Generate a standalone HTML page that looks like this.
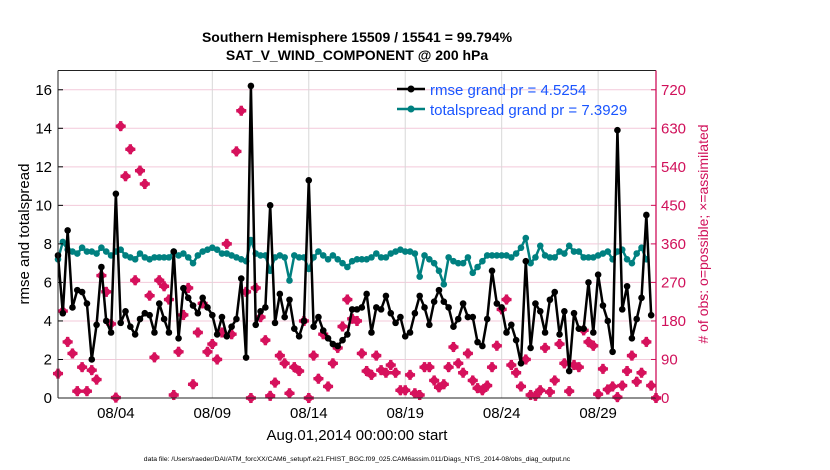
<!DOCTYPE html>
<html><head><meta charset="utf-8"><style>
body{margin:0;background:#fff;width:830px;height:470px;overflow:hidden}
svg{display:block;font-family:"Liberation Sans",sans-serif}
</style></head><body>
<svg id="chart" width="830" height="470">
<text x="357" y="42" text-anchor="middle" font-size="14" font-weight="bold">Southern Hemisphere 15509 / 15541 = 99.794%</text>
<text x="357" y="60" text-anchor="middle" font-size="14" font-weight="bold">SAT_V_WIND_COMPONENT @ 200 hPa</text>
<g id="grid"></g>
<g id="marks"></g>
<g id="axes"></g>
<text transform="translate(29,234) rotate(-90)" text-anchor="middle" font-size="15">rmse and totalspread</text>
<text transform="translate(708,234) rotate(-90)" text-anchor="middle" font-size="14" fill="#d0105a"># of obs: o=possible; ×=assimilated</text>
<text x="357" y="440" text-anchor="middle" font-size="15">Aug.01,2014 00:00:00 start</text>
<text x="357" y="461" text-anchor="middle" font-size="6.8">data file: /Users/raeder/DAI/ATM_forcXX/CAM6_setup/f.e21.FHIST_BGC.f09_025.CAM6assim.011/Diags_NTrS_2014-08/obs_diag_output.nc</text>
<g>
<line x1="397" y1="89" x2="425" y2="89" stroke="#000" stroke-width="2.5"/><circle cx="411" cy="89" r="3.5" fill="#000"/>
<text x="430" y="95" font-size="15" fill="#1a55ff">rmse grand pr = 4.5254</text>
<line x1="397" y1="109" x2="425" y2="109" stroke="#008080" stroke-width="2.5"/><circle cx="411" cy="109" r="3.5" fill="#008080"/>
<text x="430" y="115" font-size="15" fill="#1a55ff">totalspread grand pr = 7.3929</text>
</g>
</svg>
<script>
const rmse=[7.4,4.4,8.7,4.7,5.6,5.5,4.9,2.0,3.8,6.8,4.0,3.4,10.6,3.9,4.5,3.7,3.3,4.1,4.4,4.3,3.4,4.9,4.1,3.4,7.6,3.1,5.7,5.2,4.8,4.4,5.2,4.7,
4.3,3.3,4.2,3.2,3.7,4.1,6.2,2.1,16.2,3.8,4.5,4.7,10.0,3.9,5.4,4.2,5.1,3.6,3.2,4.0,11.3,3.7,4.2,3.5,3.1,2.8,2.7,3.0,3.3,4.6,4.6,
4.7,5.4,3.4,4.7,4.6,5.3,4.4,3.9,4.2,3.2,3.4,4.4,5.3,4.7,3.8,5.0,5.6,5.0,4.7,3.7,4.1,4.9,4.2,4.2,2.9,2.7,4.1,6.6,4.9,4.7,3.4,
3.8,3.0,1.8,7.1,2.6,4.9,4.5,3.4,5.1,5.5,3.3,4.5,1.4,4.4,3.6,3.6,6.0,3.4,6.4,4.8,4.0,2.4,13.9,4.6,5.8,3.1,4.1,5.2,9.5,4.3];
const spread=[7.2,8.1,7.7,7.6,7.5,7.8,7.6,7.6,7.5,7.8,7.6,7.4,7.6,7.7,7.4,7.3,7.2,7.5,7.3,7.2,7.3,7.3,7.3,7.3,7.6,7.4,7.5,7.3,7.0,7.4,7.6,7.7,
7.8,7.7,7.5,7.5,7.4,7.3,7.2,7.1,8.2,7.5,7.4,7.4,6.6,7.3,7.4,7.3,6.1,7.4,7.3,7.3,6.7,7.3,7.6,7.4,7.2,7.4,7.2,7.0,6.8,7.1,7.2,
7.2,7.2,7.3,7.5,7.3,7.3,7.5,7.6,7.7,7.6,7.6,7.5,6.3,7.4,7.2,7.0,6.6,5.9,7.3,7.1,7.0,7.0,7.3,6.5,6.8,7.1,7.4,7.4,7.4,7.4,
7.4,7.3,7.5,7.8,8.3,7.0,7.3,7.9,7.4,7.3,7.3,7.6,7.5,7.9,7.6,7.6,7.3,7.3,7.3,7.4,7.5,7.6,7.2,7.6,7.7,7.2,7.0,7.5,7.8,7.2];
const obsAssim=[57,203,131,104,16,72,16,65,43,286,248,173,1,635,518,581,275,531,500,239,95,275,261,230,7,108,194,257,32,153,221,108,
126,90,153,360,149,576,671,248,0,257,189,135,5,36,99,81,11,72,63,180,0,99,45,149,27,81,117,167,230,185,180,
104,63,54,99,65,59,77,59,18,18,54,11,7,72,72,41,25,32,72,119,81,59,104,41,23,18,29,72,122,207,230,
77,59,27,90,7,5,18,117,14,41,126,81,16,77,72,158,131,122,9,68,20,27,2,29,63,99,38,59,131,29,0];
const leftTicks=[0,2,4,6,8,10,12,14,16];
const rightTicks=[0,90,180,270,360,450,540,630,720];
const dateTicks=[3,8,13,18,23,28];
const dateLabels=["08/04","08/09","08/14","08/19","08/24","08/29"];
const stepsPerDay=4;

const X0=58,X1=656,Y0=398,Y1=70.5,DAYS=31,YMAX=17,RMAX=765;
const xs=d=>X0+(X1-X0)*d/DAYS;
const ys=v=>Y0-(Y0-Y1)*v/YMAX;
const yr=v=>Y0-(Y0-Y1)*v/RMAX;
const NS="http://www.w3.org/2000/svg";
function mk(parent,tag,attrs){const e=document.createElementNS(NS,tag);for(const k in attrs)e.setAttribute(k,attrs[k]);parent.appendChild(e);return e;}
const grid=document.getElementById('grid'),marks=document.getElementById('marks'),axes=document.getElementById('axes');

leftTicks.forEach(t=>{
  const g=mk(grid,'line',{x1:X0,x2:X1,y1:ys(t),y2:ys(t),stroke:'#f3c9da','stroke-width':1});
  
  
  const l=mk(axes,'text',{x:X0-6,y:ys(t)+5,'text-anchor':'end','font-size':15});
  l.textContent=t;
  
  
  mk(axes,'line',{x1:X0,x2:X0+5,y1:ys(t),y2:ys(t),stroke:'#000'});
});
rightTicks.forEach(t=>{
  const l=mk(axes,'text',{x:X1+5,y:yr(t)+5,'font-size':15,fill:'#d0105a'});
  l.textContent=t;
  
  
  mk(axes,'line',{x1:X1-5,x2:X1,y1:yr(t),y2:yr(t),stroke:'#d0105a'});
});
dateTicks.forEach((d,i)=>{
  const g=mk(grid,'line',{x1:xs(d),x2:xs(d),y1:Y1,y2:Y0,stroke:'#d8d8d8','stroke-width':1});
  
  
  const l=mk(axes,'text',{x:xs(d),y:Y0+20,'text-anchor':'middle','font-size':15});
  l.textContent=dateLabels[i];
  
  
});
mk(axes,'line',{x1:X0,x2:X1,y1:Y1,y2:Y1,stroke:'#222'});
mk(axes,'line',{x1:X0,x2:X1,y1:Y0,y2:Y0,stroke:'#222'});
mk(axes,'line',{x1:X0,x2:X0,y1:Y1,y2:Y0,stroke:'#222'});
const ra=mk(axes,'line',{x1:X1,x2:X1,y1:Y1,y2:Y0,stroke:'#d0105a','stroke-width':1.3});



obsAssim.forEach((v,i)=>{
  const cx=xs(i/stepsPerDay),cy=yr(v);
  const p=mk(marks,'path',{d:`M${cx-5},${cy-1.7}h3.3v-3.3h3.4v3.3h3.3v3.4h-3.3v3.3h-3.4v-3.3h-3.3z M${cx},${cy-5.3}l5.3,5.3l-5.3,5.3l-5.3,-5.3z`,fill:'#d6115c'});
  
  
});
function series(arr,color,name){
  const pts=arr.map((v,i)=>xs(i/stepsPerDay)+','+ys(v)).join(' ');
  const pl=mk(marks,'polyline',{points:pts,fill:'none',stroke:color,'stroke-width':2.5,'stroke-linejoin':'round'});
  
  
  arr.forEach((v,i)=>{
    const c=mk(marks,'circle',{cx:xs(i/stepsPerDay),cy:ys(v),r:3.3,fill:color});
    
    
  });
}
series(spread,'#008080','totalspread');
series(rmse,'#000','rmse');
</script>
</body></html>
